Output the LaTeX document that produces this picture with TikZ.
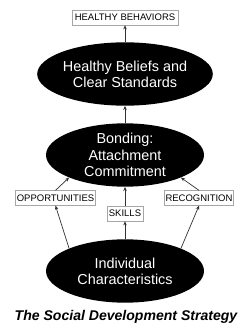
\documentclass[tikz,border=0pt]{standalone}
\usepackage{fontspec}
\setmainfont{Liberation Sans}
\usetikzlibrary{arrows.meta,shapes.geometric}

\tikzset{
  blob/.style={ellipse,fill=black,text=white,minimum width=4.74cm,minimum height=1.9cm,
    align=center,font=\fontsize{12.3}{13.8}\selectfont,inner sep=0pt},
  tag/.style={draw=gray!70,line width=0.5pt,fill=white,minimum height=0.44cm,inner sep=1pt,
    font=\fontsize{8.1}{9}\selectfont},
  link/.style={draw=black!80,line width=0.6pt,-{Stealth[length=3.5pt,width=3pt]}}
}

\begin{document}
\begin{tikzpicture}
\useasboundingbox(0,0)rectangle(7.5,-9.99);
\node[tag,minimum width=3.18cm](behav)at(3.75,-0.53){HEALTHY BEHAVIORS};
\node[blob](beliefs)at(3.75,-2.22){Healthy Beliefs and\\Clear Standards};
\node[blob](bond)at(3.75,-4.65){Bonding:\\Attachment\\Commitment};
\node[tag,minimum width=2.25cm](opport)at(1.665,-5.94){OPPORTUNITIES};
\node[tag,minimum width=1.98cm](recog)at(5.97,-5.94){RECOGNITION};
\node[tag,minimum width=1.08cm](skills)at(3.75,-6.41){SKILLS};
\node[blob](indiv)at(3.75,-8.13){Individual\\Characteristics};
\node(title)at(3.78,-9.52){\fontsize{12}{14}\selectfont\bfseries\itshape The Social Development Strategy};
\draw[link](beliefs.north)--(behav.south);
\draw[link](bond.north)--(beliefs.south);
\draw[link](indiv.158)--(opport.south);
\draw[link](opport.north)--(bond.202);
\draw[link](indiv.22)--(recog.south);
\draw[link](recog.north)--(bond.338);
\draw[link](indiv.north)--(skills.south);
\draw[link](skills.north)--(bond.south);
\end{tikzpicture}
\end{document}
